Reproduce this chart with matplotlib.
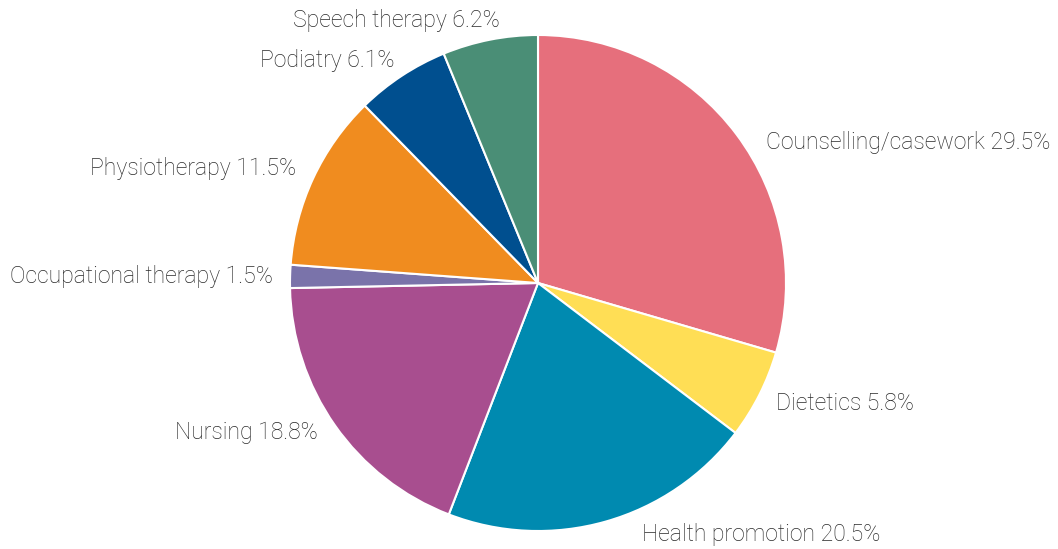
import matplotlib
matplotlib.use("Agg")
import matplotlib.pyplot as plt

categories = ["Counselling/casework", "Dietetics", "Health promotion", "Nursing",
              "Occupational therapy", "Physiotherapy", "Podiatry", "Speech therapy"]
shares = [29.5, 5.8, 20.5, 18.8, 1.5, 11.5, 6.1, 6.2]
colors = ["#E66F7C", "#FFDE55", "#008AB0", "#A84E8F", "#7A73AA", "#F08C1F", "#004F8F", "#4A8E76"]

plt.rcParams["font.family"] = ["Roboto", "DejaVu Sans"]

W, H = 1058, 549
fig = plt.figure(figsize=(W / 100, H / 100), dpi=100)
cx, cy, r = 538, 283, 248
ax = fig.add_axes([(cx - r) / W, (H - cy - r) / H, 2 * r / W, 2 * r / H])

labels = [f"{c} {v}%" for c, v in zip(categories, shares)]
wedges, texts = ax.pie(shares, colors=colors, startangle=90, counterclock=False,
                       labels=labels, labeldistance=1.1,
                       wedgeprops=dict(edgecolor="white", linewidth=1.5),
                       textprops=dict(fontsize=16.6, color="#2a2a2a", fontweight="light"))
ax.set_xlim(-1, 1)
ax.set_ylim(-1, 1)
ax.set_aspect("equal")
ax.axis("off")

# label anchors in pixel space (x, y from top-left) with horizontal alignment
label_anchors = [(766, 143, "left"), (776, 404, "left"), (642, 534, "left"),
                 (318, 432, "right"), (273, 277, "right"), (296, 168, "right"),
                 (395, 61, "right"), (500, 21, "right")]
for t, (px, py, ha) in zip(texts, label_anchors):
    t.set_position(((px - cx) / r, (cy - py) / r))
    t.set_ha(ha)
    t.set_va("center")
    t.set_clip_on(False)

fig.savefig("out.png", dpi=100)
